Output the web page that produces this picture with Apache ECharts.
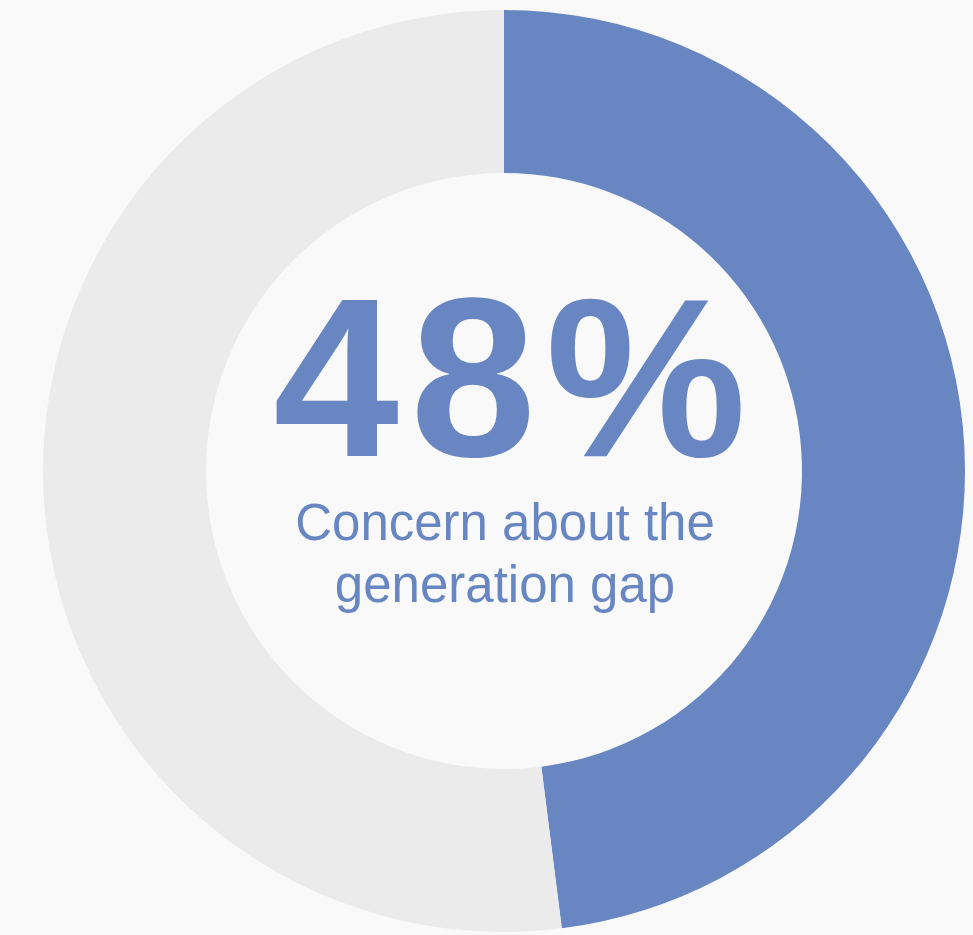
<!DOCTYPE html>
<html>
<head>
<meta charset="utf-8">
<script src="https://cdn.jsdelivr.net/npm/echarts@6/dist/echarts.min.js"></script>
<style>
  html, body { margin: 0; padding: 0; background: #f9f9f9; }
  #chart { width: 973px; height: 935px; }
</style>
</head>
<body>
<div id="chart"></div>
<script>
// Share of respondents concerned about the generation gap
const sliceNames = ['Concerned', 'Not concerned'];
const sliceValues = [48, 52];
const sliceColors = ['#6886c1', '#ebebeb'];
const headline = '48%';
const caption = ['Concern about the', 'generation gap'];

const chart = echarts.init(document.getElementById('chart'), null, { renderer: 'canvas' });

// The headline is set glyph by glyph so its spacing can be opened up a little
const headlineX = [336, 473, 646];
const headlineText = headline.split('').map((ch, i) => ({
  type: 'text',
  x: headlineX[i],
  y: 394,
  style: {
    text: ch,
    fill: '#6886c1',
    fontFamily: '"Liberation Sans", Arial, sans-serif',
    fontWeight: 'bold',
    fontSize: 226,
    align: 'center',
    verticalAlign: 'middle'
  }
}));

chart.setOption({
  backgroundColor: '#f9f9f9',
  animation: false,
  series: [{
    type: 'pie',
    center: [504, 471],
    radius: [298, 461],
    startAngle: 90,
    clockwise: true,
    silent: true,
    label: { show: false },
    labelLine: { show: false },
    data: sliceValues.map((v, i) => ({
      name: sliceNames[i],
      value: v,
      itemStyle: { color: sliceColors[i] }
    }))
  }],
  graphic: headlineText.concat([
    {
      type: 'text',
      x: 505,
      y: 557,
      style: {
        text: caption.join('\n'),
        fill: '#6886c1',
        fontFamily: '"Liberation Sans", Arial, sans-serif',
        fontSize: 51,
        lineHeight: 62,
        align: 'center',
        verticalAlign: 'middle'
      }
    }
  ])
});
</script>
</body>
</html>
